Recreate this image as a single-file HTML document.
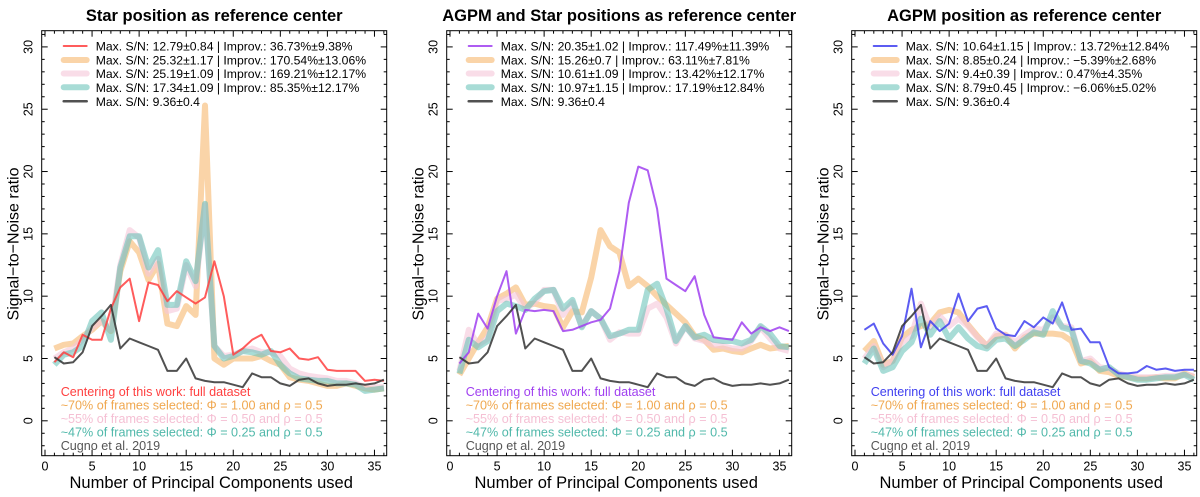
<!DOCTYPE html>
<html><head><meta charset="utf-8"><style>
body{margin:0;background:#fff;}
svg{display:block;font-family:"Liberation Sans",sans-serif;}
</style></head><body>
<svg id="c" width="1200" height="497" viewBox="0 0 1200 497"></svg>
<script>
const xs=[1,2,3,4,5,6,7,8,9,10,11,12,13,14,15,16,17,18,19,20,21,22,23,24,25,26,27,28,29,30,31,32,33,34,35,36];
const cugno=[5.1,4.6,4.7,5.5,7.6,8.4,9.3,5.8,6.6,6.3,6.0,5.7,4.0,4.0,5.0,3.4,3.2,3.1,3.1,2.9,2.7,3.8,3.5,3.5,3.0,2.8,3.3,3.4,3.0,2.8,2.9,2.9,3.0,2.9,3.0,3.3];
const p1Full=[4.7,5.5,5.1,6.9,6.5,6.5,9.0,10.7,11.4,8.0,11.1,10.9,9.6,10.4,9.9,9.4,9.9,12.8,10.0,5.3,5.8,6.5,6.9,5.6,5.5,5.8,5.0,4.9,5.1,4.1,4.0,4.0,4.0,3.2,3.3,3.2];
const p1Phi100=[5.8,6.1,6.2,6.8,7.3,8.0,7.2,12.0,14.4,13.5,11.3,12.6,7.8,7.6,9.2,8.5,25.3,5.0,4.5,5.0,5.0,5.0,5.2,4.8,4.5,3.5,3.3,3.2,3.0,2.8,2.8,3.0,2.8,2.6,2.5,2.6];
const p1Phi050=[5.0,5.5,5.8,6.5,7.5,8.0,7.3,12.5,15.3,14.7,11.8,13.0,8.8,9.0,12.5,10.8,17.3,6.0,5.2,5.3,5.6,5.8,5.5,5.5,5.2,4.2,3.8,3.6,3.5,3.4,3.2,3.2,3.0,2.7,2.7,2.7];
const p1Phi025=[4.5,5.3,5.5,6.0,8.0,8.7,6.5,12.3,14.8,14.8,12.3,13.7,9.3,9.3,12.8,11.2,17.4,6.0,5.0,5.2,5.6,5.5,5.3,5.6,4.5,3.8,3.4,3.3,3.2,3.2,3.0,3.0,2.9,2.4,2.5,2.6];
const p2Full=[4.6,5.5,8.6,7.4,10.0,12.0,7.0,8.9,8.8,8.9,8.8,7.2,7.3,7.6,7.9,8.1,9.0,12.0,17.5,20.4,20.1,17.0,11.4,10.9,10.4,11.6,8.5,6.7,6.6,6.5,7.9,7.0,7.5,7.2,7.5,7.2];
const p2Phi100=[3.7,5.0,6.3,7.5,9.8,10.2,10.7,9.3,9.4,9.2,9.1,7.5,8.8,8.7,11.5,15.3,14.0,13.5,10.8,11.4,10.8,10.0,9.3,8.6,7.9,6.8,6.5,5.7,5.8,5.6,5.5,5.8,6.1,5.8,5.9,6.0];
const p2Phi050=[4.0,7.3,6.1,6.6,9.6,9.8,10.1,9.0,9.5,10.5,10.5,8.5,9.5,7.6,8.8,8.2,6.5,7.1,7.0,7.0,9.0,9.4,8.3,6.2,7.6,6.6,6.4,6.1,6.0,5.8,5.8,6.4,7.5,6.6,5.8,5.6];
const p2Phi025=[3.8,6.5,5.9,6.4,8.8,9.4,9.2,8.9,9.8,10.4,10.5,9.0,9.7,7.5,8.8,8.2,6.8,7.0,7.3,7.3,10.5,11.0,9.0,6.4,7.6,6.7,6.9,6.5,6.4,6.4,6.2,6.5,7.6,7.0,6.0,5.9];
const p3Full=[7.3,7.8,6.2,5.3,6.8,10.6,5.9,8.0,7.2,7.8,10.2,8.0,9.0,9.2,7.4,6.9,6.8,8.0,7.5,8.3,7.8,9.5,7.3,7.4,6.3,6.3,4.3,3.8,3.8,3.9,4.4,4.1,4.2,4.0,4.1,4.1];
const p3Phi100=[5.6,6.4,4.5,4.8,6.7,7.3,7.6,7.8,8.7,8.9,8.7,7.7,6.8,6.0,6.8,6.9,5.8,6.7,7.0,7.0,7.0,6.9,6.4,4.6,4.8,4.0,3.9,3.6,3.5,3.4,3.4,3.5,3.4,3.4,3.8,3.5];
const p3Phi050=[5.0,6.0,4.3,4.8,6.3,6.8,9.4,7.5,8.4,7.6,8.2,7.6,6.7,6.0,7.0,6.9,6.3,6.9,7.4,7.3,8.3,7.6,7.5,4.8,5.0,4.3,4.2,3.8,3.6,3.5,3.5,3.5,3.6,3.6,3.7,3.6];
const p3Phi025=[4.6,5.8,4.0,4.3,5.6,6.3,8.2,6.9,8.0,6.6,7.5,6.6,6.0,5.8,6.5,6.6,6.0,6.5,7.1,6.9,8.8,7.5,7.3,4.8,4.6,4.1,4.3,3.7,3.5,3.3,3.3,3.4,3.5,3.5,3.7,3.3];
const xTicks=[0,5,10,15,20,25,30,35];
const yTicks=[0,5,10,15,20,25,30];
const titles=["Star position as reference center","AGPM and Star positions as reference center","AGPM position as reference center"];
const legendTexts=[
["Max. S/N: 12.79\u00b10.84 | Improv.: 36.73%\u00b19.38%","Max. S/N: 25.32\u00b11.17 | Improv.: 170.54%\u00b113.06%","Max. S/N: 25.19\u00b11.09 | Improv.: 169.21%\u00b112.17%","Max. S/N: 17.34\u00b11.09 | Improv.: 85.35%\u00b112.17%","Max. S/N: 9.36\u00b10.4"],
["Max. S/N: 20.35\u00b11.02 | Improv.: 117.49%\u00b111.39%","Max. S/N: 15.26\u00b10.7 | Improv.: 63.11%\u00b17.81%","Max. S/N: 10.61\u00b11.09 | Improv.: 13.42%\u00b112.17%","Max. S/N: 10.97\u00b11.15 | Improv.: 17.19%\u00b112.84%","Max. S/N: 9.36\u00b10.4"],
["Max. S/N: 10.64\u00b11.15 | Improv.: 13.72%\u00b112.84%","Max. S/N: 8.85\u00b10.24 | Improv.: \u22125.39%\u00b12.68%","Max. S/N: 9.4\u00b10.39 | Improv.: 0.47%\u00b14.35%","Max. S/N: 8.79\u00b10.45 | Improv.: \u22126.06%\u00b15.02%","Max. S/N: 9.36\u00b10.4"]];
const notes=["Centering of this work: full dataset","~70% of frames selected: \u03a6 = 1.00 and \u03c1 = 0.5","~55% of frames selected: \u03a6 = 0.50 and \u03c1 = 0.5","~47% of frames selected: \u03a6 = 0.25 and \u03c1 = 0.5","Cugno et al. 2019"];
const fullColors=["#ff4040","#a040f0","#4040f0"];
const panelData=[[p1Full,p1Phi100,p1Phi050,p1Phi025],[p2Full,p2Phi100,p2Phi050,p2Phi025],[p3Full,p3Phi100,p3Phi050,p3Phi025]];
const NS="http://www.w3.org/2000/svg";
const svg=document.getElementById('c');
function mk(tag,attrs,parent,text){const e=document.createElementNS(NS,tag);for(const k in attrs)e.setAttribute(k,attrs[k]);if(text!==undefined)e.textContent=text;(parent||svg).appendChild(e);return e;}
const W=345,H=425,TOP=30.7,XMIN=-0.35,XMAX=36.3,YMIN=-2.8,YMAX=31.3;
const thick=[{c:"#f5b060",o:0.55},{c:"#f5c6d8",o:0.6},{c:"#60c0b4",o:0.55}];
for(let p=0;p<3;p++){
  const L=41.7+405*p;
  const sx=v=>L+(v-XMIN)/(XMAX-XMIN)*W;
  const sy=v=>TOP+H-(v-YMIN)/(YMAX-YMIN)*H;
  const g=mk('g',{});
  
  
  const t=mk('text',{x:L+W/2,y:21,'text-anchor':'middle','font-size':'16.5','font-weight':'bold',fill:'#000'},g,titles[p]);
  
  const clip=mk('clipPath',{id:'cl'+p},g);mk('rect',{x:L,y:TOP,width:W,height:H},clip);
  const lg=mk('g',{'clip-path':'url(#cl'+p+')'},g);
  const path=arr=>arr.map((v,i)=>(i?'L':'M')+sx(xs[i]).toFixed(1)+','+sy(v).toFixed(1)).join('');
  const d=panelData[p];
  for(let k=0;k<3;k++){const e=mk('path',{d:path(d[k+1]),fill:'none',stroke:thick[k].c,'stroke-opacity':thick[k].o,'stroke-width':6,'stroke-linejoin':'round'},lg);
    }
  let e=mk('path',{d:path(d[0]),fill:'none',stroke:fullColors[p],'stroke-opacity':0.85,'stroke-width':2,'stroke-linejoin':'round'},lg);
  
  e=mk('path',{d:path(cugno),fill:'none',stroke:'#333','stroke-opacity':0.85,'stroke-width':2,'stroke-linejoin':'round'},lg);
  
  const fr=mk('rect',{x:L,y:TOP,width:W,height:H,fill:'none',stroke:'#000','stroke-width':1},g);
  
  for(let v=0;v<=36;v++){const X=sx(v);const len=v%5===0?6:3;
    mk('line',{x1:X,x2:X,y1:TOP+H,y2:TOP+H-len,stroke:'#000'},g);mk('line',{x1:X,x2:X,y1:TOP,y2:TOP+len,stroke:'#000'},g);}
  for(let v=-2;v<=31;v++){const Y=sy(v);const len=v%5===0?6:3;
    mk('line',{x1:L,x2:L+len,y1:Y,y2:Y,stroke:'#000'},g);mk('line',{x1:L+W,x2:L+W-len,y1:Y,y2:Y,stroke:'#000'},g);}
  xTicks.forEach(v=>{const tt=mk('text',{x:sx(v),y:TOP+H+15,'text-anchor':'middle','font-size':'12.5',fill:'#000'},g,String(v));
    });
  yTicks.forEach(v=>{const X=L-9,Y=sy(v);const tt=mk('text',{x:X,y:Y,'text-anchor':'middle','font-size':'12.5',fill:'#000',transform:`rotate(-90 ${X} ${Y})`},g,String(v));
    });
  const xl=mk('text',{x:L+W/2-3,y:488,'text-anchor':'middle','font-size':'16.5',fill:'#000'},g,'Number of Principal Components used');
  
  const yx=L-23,yy=244;
  const yl=mk('text',{x:yx,y:yy,'text-anchor':'middle','font-size':'16',fill:'#000',transform:`rotate(-90 ${yx} ${yy})`},g,'Signal\u2212to\u2212Noise ratio');
  
  const legCol=[{c:fullColors[p],w:2,o:0.85},{c:thick[0].c,w:6,o:0.55},{c:thick[1].c,w:6,o:0.6},{c:thick[2].c,w:6,o:0.55},{c:'#333',w:2.5,o:0.85}];
  const rows=[46,60,73.5,87.3,101.3];
  for(let i=0;i<5;i++){
    const lgE=mk('g',{},g);
    mk('line',{x1:L+22,x2:L+45,y1:rows[i],y2:rows[i],stroke:legCol[i].c,'stroke-width':legCol[i].w,'stroke-opacity':legCol[i].o,'stroke-linecap':'round'},lgE);
    mk('text',{x:L+54,y:rows[i]+4.5,'font-size':'12.2',fill:'#000'},lgE,legendTexts[p][i]);
  }
  const nc=[fullColors[p],'#f0a850','#f5c0d4','#50b8aa','#555'];
  const ny=[396,409.5,423,436.5,450];
  for(let i=0;i<5;i++){const n=mk('text',{x:L+19,y:ny[i],'font-size':'12.6',fill:nc[i]},g,notes[i]);
    }
}
</script>
</body></html>
